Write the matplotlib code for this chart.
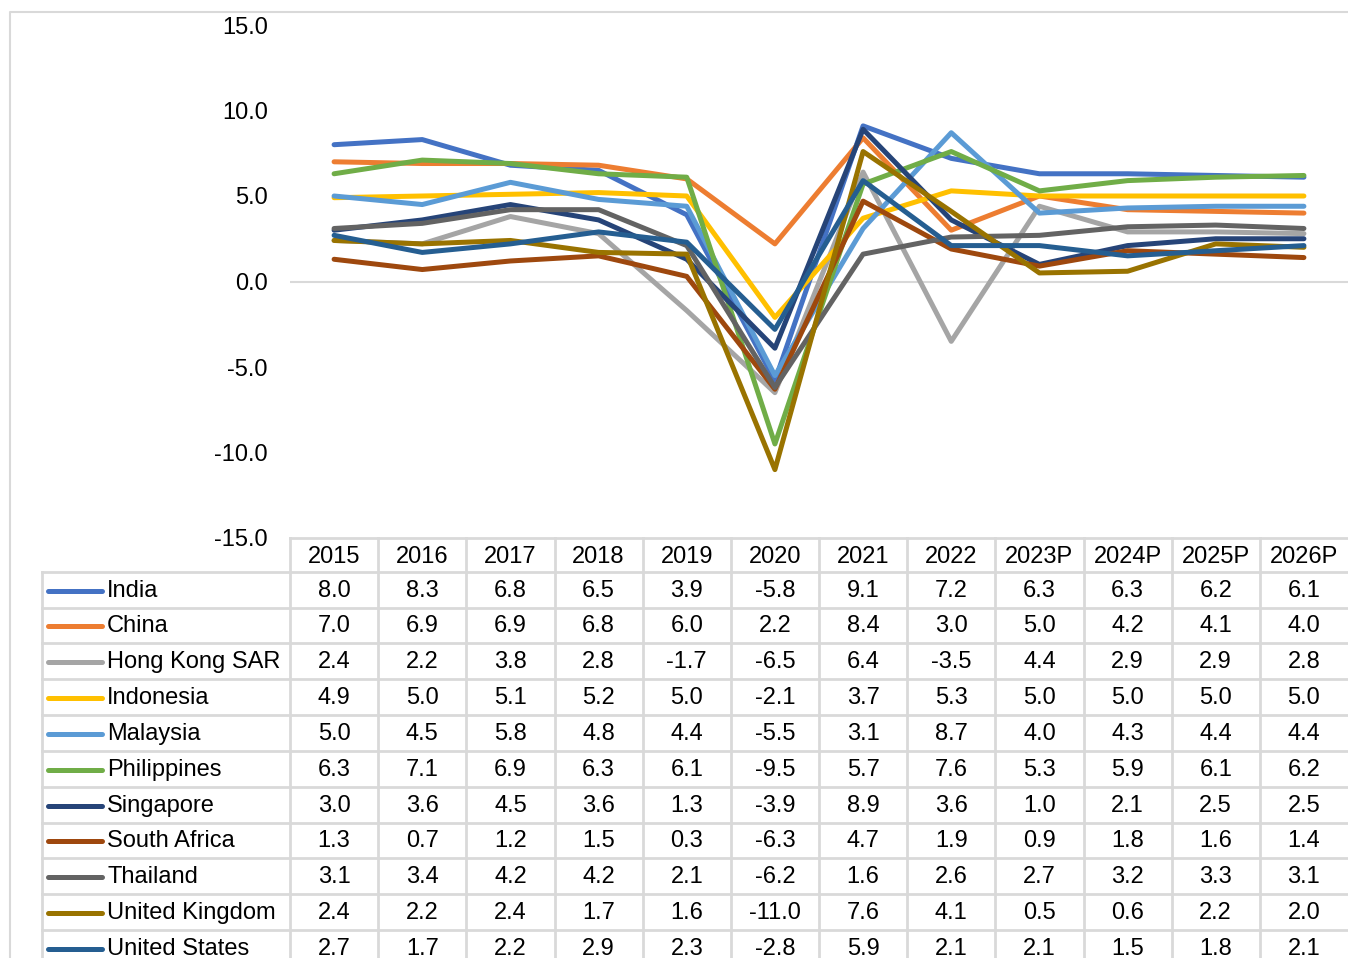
import matplotlib
matplotlib.use("Agg")
import matplotlib.pyplot as plt

plt.rcParams['font.family'] = ['Liberation Sans', 'DejaVu Sans']

years = ["2015", "2016", "2017", "2018", "2019", "2020", "2021", "2022",
         "2023P", "2024P", "2025P", "2026P"]
countries = ["India", "China", "Hong Kong SAR", "Indonesia", "Malaysia",
             "Philippines", "Singapore", "South Africa", "Thailand",
             "United Kingdom", "United States"]
india = [8.0, 8.3, 6.8, 6.5, 3.9, -5.8, 9.1, 7.2, 6.3, 6.3, 6.2, 6.1]
china = [7.0, 6.9, 6.9, 6.8, 6.0, 2.2, 8.4, 3.0, 5.0, 4.2, 4.1, 4.0]
hong_kong = [2.4, 2.2, 3.8, 2.8, -1.7, -6.5, 6.4, -3.5, 4.4, 2.9, 2.9, 2.8]
indonesia = [4.9, 5.0, 5.1, 5.2, 5.0, -2.1, 3.7, 5.3, 5.0, 5.0, 5.0, 5.0]
malaysia = [5.0, 4.5, 5.8, 4.8, 4.4, -5.5, 3.1, 8.7, 4.0, 4.3, 4.4, 4.4]
philippines = [6.3, 7.1, 6.9, 6.3, 6.1, -9.5, 5.7, 7.6, 5.3, 5.9, 6.1, 6.2]
singapore = [3.0, 3.6, 4.5, 3.6, 1.3, -3.9, 8.9, 3.6, 1.0, 2.1, 2.5, 2.5]
south_africa = [1.3, 0.7, 1.2, 1.5, 0.3, -6.3, 4.7, 1.9, 0.9, 1.8, 1.6, 1.4]
thailand = [3.1, 3.4, 4.2, 4.2, 2.1, -6.2, 1.6, 2.6, 2.7, 3.2, 3.3, 3.1]
united_kingdom = [2.4, 2.2, 2.4, 1.7, 1.6, -11.0, 7.6, 4.1, 0.5, 0.6, 2.2, 2.0]
united_states = [2.7, 1.7, 2.2, 2.9, 2.3, -2.8, 5.9, 2.1, 2.1, 1.5, 1.8, 2.1]

series = [india, china, hong_kong, indonesia, malaysia, philippines,
          singapore, south_africa, thailand, united_kingdom, united_states]
colors = ["#4472C4", "#ED7D31", "#A5A5A5", "#FFC000", "#5B9BD5", "#70AD47",
          "#264478", "#9E480E", "#636363", "#997300", "#255E91"]

W, H = 1348, 958
fig = plt.figure(figsize=(W / 100, H / 100), dpi=100)

# pixel-coordinate overlay for the frame and the data table
tab = fig.add_axes([0, 0, 1, 1])
tab.set_xlim(0, W)
tab.set_ylim(H, 0)
tab.axis('off')

grid = "#D9D9D9"
fs = 17

# outer chart border
tab.plot([10, 10, W], [H, 12, 12], color=grid, lw=1.5)

# plot area
x0, x1 = 290, 1348
ytop, ybot = 25, 538
ax = fig.add_axes([x0 / W, (H - ybot) / H, (x1 - x0) / W, (ybot - ytop) / H])
for s, c in zip(series, colors):
    ax.plot(range(len(years)), s, color=c, lw=3.6,
            solid_capstyle='round', solid_joinstyle='round')
ax.axhline(0, color=grid, lw=1.5, zorder=0)
ax.set_xlim(-0.5, len(years) - 0.5)
ax.set_ylim(-15, 15)
ax.set_yticks([-15, -10, -5, 0, 5, 10, 15])
ax.set_yticklabels([f"{v:.1f}" for v in [-15, -10, -5, 0, 5, 10, 15]], fontsize=fs)
ax.tick_params(axis='y', length=0, pad=16)
ax.set_xticks([])
for sp in ax.spines.values():
    sp.set_visible(False)
ax.patch.set_alpha(0)

# data table
colw = (x1 - x0) / len(years)
row0 = 571.7
rowh = 35.83
xl = 42

tab.plot([x0, x1], [ybot, ybot], color=grid, lw=2)
for i in range(len(countries) + 1):
    y = row0 + i * rowh
    tab.plot([xl, x1], [y, y], color=grid, lw=2)
tab.plot([xl, xl], [row0, H], color=grid, lw=2)
for j in range(len(years)):
    x = x0 + j * colw
    tab.plot([x, x], [ybot, H], color=grid, lw=2)

for j, yr in enumerate(years):
    tab.text(x0 + (j + 0.5) * colw, (ybot + row0) / 2 + 2, yr,
             ha='center', va='center', fontsize=fs)

for i, (name, s, c) in enumerate(zip(countries, series, colors)):
    yc = row0 + (i + 0.5) * rowh + 1
    tab.plot([48, 102], [yc, yc], color=c, lw=3.6, solid_capstyle='round')
    tab.text(107, yc, name, ha='left', va='center', fontsize=fs)
    for j, v in enumerate(s):
        tab.text(x0 + (j + 0.5) * colw, yc, f"{v:.1f}",
                 ha='center', va='center', fontsize=fs)

fig.savefig("out.png", dpi=100)
